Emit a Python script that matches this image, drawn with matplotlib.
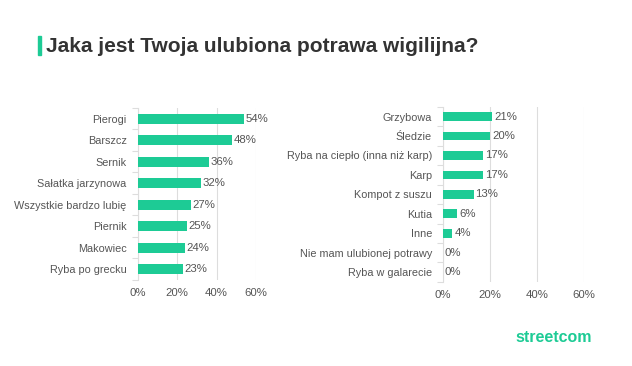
import matplotlib.pyplot as plt
import numpy as np

plt.rcParams['font.family'] = ['Liberation Sans', 'DejaVu Sans']

left_labels = ["Pierogi", "Barszcz", "Sernik", "Sałatka jarzynowa",
               "Wszystkie bardzo lubię", "Piernik", "Makowiec", "Ryba po grecku"]
left_values = [54, 48, 36, 32, 27, 25, 24, 23]

right_labels = ["Grzybowa", "Śledzie", "Ryba na ciepło (inna niż karp)", "Karp",
                "Kompot z suszu", "Kutia", "Inne", "Nie mam ulubionej potrawy",
                "Ryba w galarecie"]
right_values = [21, 20, 17, 17, 13, 6, 4, 0, 0]

xticks = [0, 20, 40, 60]
green = '#1dcb95'
text_col = '#555555'
grid_col = '#dddddd'

fig = plt.figure(figsize=(6.32, 3.66), dpi=100)


def draw(ax, labels, values):
    y = np.arange(len(labels))
    ax.barh(y, values, height=0.45, color=green, zorder=3)
    for yi, v in zip(y, values):
        ax.text(v + 0.8, yi, f"{v}%", va='center', ha='left',
                fontsize=8.2, color=text_col, zorder=4)
    ax.set_yticks(y)
    ax.set_yticklabels(labels, fontsize=7.8, color=text_col)
    ax.set_ylim(len(labels) - 0.5, -0.5)
    ax.set_xlim(0, 60)
    ax.set_xticks(xticks)
    ax.set_xticklabels([f"{t}%" for t in xticks], fontsize=8.2, color=text_col)
    ax.set_yticks(np.arange(len(labels) + 1) - 0.5, minor=True)
    ax.tick_params(axis='y', which='major', length=0, pad=8)
    ax.tick_params(axis='y', which='minor', length=4, color=grid_col, width=0.8)
    ax.tick_params(axis='x', length=0, pad=6)
    ax.grid(axis='x', color=grid_col, linewidth=0.8, zorder=0)
    for s in ['top', 'right', 'bottom']:
        ax.spines[s].set_visible(False)
    ax.spines['left'].set_color(grid_col)
    ax.spines['left'].set_linewidth(0.8)


ax1 = fig.add_axes([0.218, 0.235, 0.187, 0.47])
draw(ax1, left_labels, left_values)

ax2 = fig.add_axes([0.701, 0.23, 0.223, 0.478])
draw(ax2, right_labels, right_values)

# title with green accent bar
fig.patches.append(plt.Rectangle((38 / 632, 1 - 55 / 366), 3 / 632, 19 / 366,
                                 transform=fig.transFigure, color=green))
fig.text(46 / 632, 1 - 46 / 366, "Jaka jest Twoja ulubiona potrawa wigilijna?",
         fontsize=15, fontweight='bold', color='#333333', va='center', ha='left')

fig.text(0.937, 1 - 337 / 366, "streetcom", fontsize=11.5, fontweight='bold',
         color=green, ha='right', va='center')

fig.savefig('out.png', dpi=100)
